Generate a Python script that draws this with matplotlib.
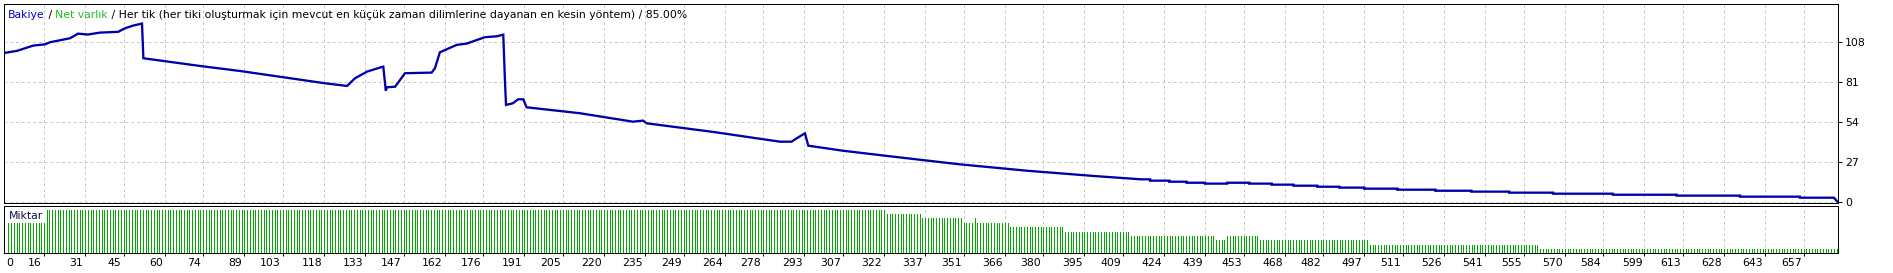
import matplotlib
matplotlib.use("Agg")
import matplotlib.pyplot as plt
import matplotlib.transforms as mtransforms
import numpy as np

W, H, DPI = 1893, 273, 100
FONT = "DejaVu Sans"
FS = 7.8

# --- balance curve (trade number, balance) ---
trade_idx = [1.7, 6.2, 12.0, 16.4, 18.2, 25.5, 28.4, 32.0, 36.4, 43.0, 45.5, 48.4, 51.7,
             52.2, 59.3, 72.8, 87.4, 103.1, 118.4, 126.4, 129.3, 133.7, 139.1, 139.6,
             140.5, 140.9, 143.9, 147.5, 157.2, 158.4, 160.2, 166.3, 170.0, 176.6, 180.9,
             183.3, 183.9, 184.3, 186.8, 188.7, 190.6, 191.8, 211.2, 230.5, 234.2, 235.5,
             259.7, 281.5, 284.1, 288.3, 290.2, 292.6, 293.2, 294.4, 307.0, 325.3, 349.7,
             374.1, 398.1, 415.6]
balance = [100.6, 102.0, 105.5, 106.4, 107.8, 110.5, 113.6, 113.0, 114.3, 114.8, 117.2, 119.0, 120.4,
           97.0, 95.2, 91.8, 88.4, 84.2, 80.1, 78.3, 83.5, 88.0, 91.1, 91.3,
           75.1, 77.4, 77.8, 86.9, 87.3, 90.2, 101.0, 106.0, 106.9, 111.2, 111.8,
           112.9, 82.4, 65.5, 66.6, 69.3, 69.3, 63.9, 59.9, 54.2, 54.9, 53.1,
           47.3, 41.4, 40.7, 40.7, 43.0, 45.7, 46.3, 38.0, 34.6, 30.6, 25.4,
           21.1, 17.6, 15.3]

# stair-stepped tail of the curve
step_edges = [415.6, 418.9, 425.9, 432.2, 438.9, 447.0, 455.0, 463.2, 471.1, 479.8, 487.8,
              496.9, 509.0, 522.8, 535.9, 549.7, 565.7, 587.5, 610.7, 633.8, 655.6, 668.0]
step_levels = [15.3, 14.4, 13.7, 13.0, 12.4, 13.0, 12.4, 11.7, 11.0, 10.3, 9.7,
               9.0, 8.3, 7.6, 7.0, 6.3, 5.6, 4.9, 4.3, 3.6, 2.9]
final_trade, final_balance = 669.3, 0.2

# --- lot size per trade (first trade of each run, lot) ---
lot_start = [3, 323, 336, 351, 355, 356, 368, 388, 412, 443, 447, 459, 499, 561]
lot_value = [0.42, 0.38, 0.34, 0.29, 0.34, 0.29, 0.25, 0.20, 0.16, 0.12, 0.16, 0.12, 0.073, 0.033]
last_trade = 669

x_labels = [16, 31, 45, 60, 74, 89, 103, 118, 133, 147, 162, 176, 191, 205, 220, 235, 249,
            264, 278, 293, 307, 322, 337, 351, 366, 380, 395, 409, 424, 439, 453, 468, 482,
            497, 511, 526, 541, 555, 570, 584, 599, 613, 628, 643, 657]
y_labels = [0, 27, 54, 81, 108]

BLUE = "#0000AA"
GREEN = "#00A800"
GRID = "#C8C8C8"
PX = 72.0 / DPI  # one pixel in points

fig = plt.figure(figsize=(W / DPI, H / DPI), dpi=DPI)


def px_axes(left, top, right, bottom):
    return fig.add_axes([left / W, 1 - bottom / H, (right - left) / W, (bottom - top) / H])


def shift(dx, dy):
    return mtransforms.ScaledTranslation(dx / DPI, dy / DPI, fig.dpi_scale_trans)


ax = px_axes(4, 4, 1838, 203)
axv = px_axes(4, 205.5, 1838, 253.3)

# build the curve
cx = list(trade_idx)
cy = list(balance)
for i, lvl in enumerate(step_levels):
    cx += [step_edges[i], step_edges[i + 1]]
    cy += [lvl, lvl]
cx.append(final_trade)
cy.append(final_balance)
ax.plot(cx, cy, color=BLUE, lw=2.3 * PX, solid_joinstyle="miter")

# volume bars
trades = np.arange(lot_start[0], last_trade + 1)
ends = lot_start[1:] + [last_trade + 1]
lots = np.concatenate([np.full(e - s, v) for s, e, v in zip(lot_start, ends, lot_value)])
axv.vlines(trades, 0, lots, color=GREEN, lw=PX, antialiased=False)

for a in (ax, axv):
    a.set_xlim(1.43, 669.5)
    a.set_xticks(x_labels)
    a.set_xticklabels([])
    a.grid(True, axis="x", color=GRID, lw=PX, ls=(0, (4 * PX, 4 * PX)))
    a.set_axisbelow(True)
    for s in a.spines.values():
        s.set_linewidth(PX)
        s.set_color("black")

ax.set_ylim(-0.675, 133.6)
ax.set_yticks(y_labels)
ax.yaxis.tick_right()
ax.tick_params(axis="y", direction="out", length=3, width=PX, pad=2, labelsize=FS)
for t in ax.get_yticklabels():
    t.set_family(FONT)
ax.tick_params(axis="x", length=0)
ax.grid(True, axis="y", color=GRID, lw=PX, ls=(0, (4 * PX, 4 * PX)))

axv.set_ylim(-0.01, 0.465)
axv.set_yticks([])
axv.tick_params(axis="x", direction="out", length=2.5, width=PX)

# x labels, right-aligned just left of each tick
lbl_tr = mtransforms.blended_transform_factory(axv.transData, axv.transAxes)
for v in x_labels:
    axv.text(v, 0, str(v), transform=lbl_tr + shift(-2, -10), ha="right", va="center",
             fontsize=FS, family=FONT)
axv.text(0, 0, "0", transform=axv.transAxes + shift(2, -10),
         ha="left", va="center", fontsize=FS, family=FONT)

axv.text(0, 1, "Miktar", transform=axv.transAxes + shift(5, -10.5),
         ha="left", va="center", fontsize=FS, family=FONT, color="#101040",
         bbox=dict(facecolor="white", edgecolor="none", pad=1.2))

# multi-colour header
pieces = [("Bakiye", "#0000CC"), (" / ", "black"), ("Net varlık", "#22BB22"),
          (" / Her tik (her tiki oluşturmak için mevcut en küçük zaman dilimlerine dayanan en kesin yöntem) / 85.00%", "black")]
renderer = fig.canvas.get_renderer()
xpos = 4
for txt, col in pieces:
    t = ax.text(0, 1, txt, color=col, fontsize=FS, family=FONT, ha="left", va="center",
                transform=ax.transAxes + shift(xpos, -11))
    xpos += t.get_window_extent(renderer).width

fig.savefig("out.png", dpi=DPI)
